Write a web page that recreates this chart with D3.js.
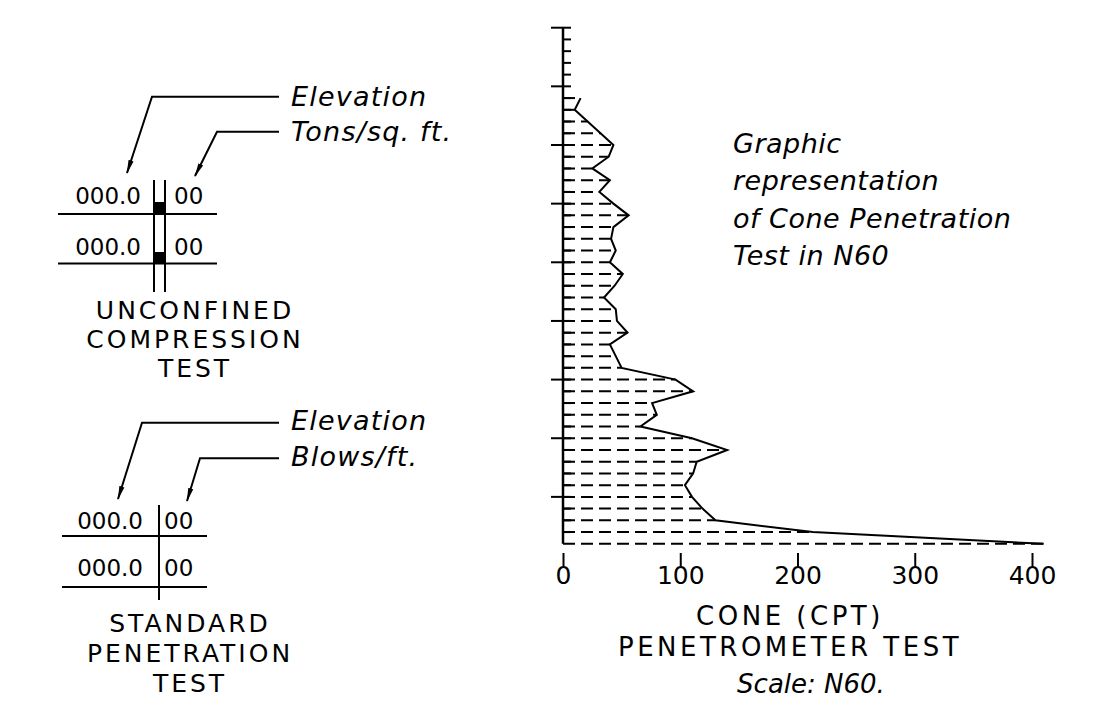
<!DOCTYPE html>
<html>
<head>
<meta charset="utf-8">
<script src="https://cdn.jsdelivr.net/npm/d3@7"></script>
<style>
  body { margin: 0; background: #fff; }
  svg { display: block; }
  text { font-family: "DejaVu Sans", sans-serif; fill: #000; }
  .it { font-style: italic; }
</style>
</head>
<body>
<svg id="chart" width="1107" height="719"></svg>
<script>
// depth rows (minor tick index from top of the axis) and N60 read at each row
const depthRows = d3.range(6, 45);
const cptN60 = [15, 10, 21, 32, 43, 39, 25, 40, 31, 43,
                56, 43, 41, 45, 40, 51, 44, 35, 45, 46,
                55, 40, 45, 50, 96, 111, 76, 80, 66, 110,
                140, 114, 111, 104, 110, 119, 130, 213, 410];
const xTickValues = [0, 100, 200, 300, 400];
const depthTicks = d3.range(0, 44);

const noteLines = ["Graphic", "representation", "of Cone Penetration", "Test in N60"];
const axisTitle = ["CONE (CPT)", "PENETROMETER TEST"];
const scaleNote = "Scale: N60.";
const uctTitle = ["UNCONFINED", "COMPRESSION", "TEST"];
const sptTitle = ["STANDARD", "PENETRATION", "TEST"];
const uctLabels = ["Elevation", "Tons/sq. ft."];
const sptLabels = ["Elevation", "Blows/ft."];
const sampleElev = ["000.0", "000.0"];
const sampleValue = ["00", "00"];

const svg = d3.select("#chart");

// arrowhead for leader lines
svg.append("defs").append("marker")
    .attr("id", "arrow")
    .attr("viewBox", "0 -4 14 8")
    .attr("refX", 13).attr("refY", 0)
    .attr("markerWidth", 14).attr("markerHeight", 8)
    .attr("markerUnits", "userSpaceOnUse")
    .attr("orient", "auto")
    .append("path")
    .attr("d", "M0,-2.6L14,0L0,2.6Z")
    .attr("fill", "#000");

// ---------- CPT profile ----------
const x = d3.scaleLinear().domain([0, 400]).range([563, 1032]);
const y = d3.scaleLinear().domain([0, 44]).range([27.7, 543.8]);

const rows = depthRows.map((r, i) => ({ row: r, v: cptN60[i] }));
const plot = svg.append("g");

plot.selectAll(".dash")
    .data(rows)
    .enter()
    .append("line")
    .attr("x1", x(0))
    .attr("x2", d => x(d.v))
    .attr("y1", d => y(d.row))
    .attr("y2", d => y(d.row))
    .attr("stroke", "#000")
    .attr("stroke-width", 2)
    .attr("stroke-dasharray", "12,6");

// depth ticks: long ones every 5 rows
plot.selectAll(".tick")
    .data(depthTicks)
    .enter()
    .append("line")
    .attr("x1", d => d % 5 === 0 ? x(0) - 12 : x(0))
    .attr("x2", x(0) + 8)
    .attr("y1", d => y(d))
    .attr("y2", d => y(d))
    .attr("stroke", "#000")
    .attr("stroke-width", 2);

plot.append("line")
    .attr("x1", x(0)).attr("x2", x(0))
    .attr("y1", y(0)).attr("y2", y(44))
    .attr("stroke", "#000")
    .attr("stroke-width", 2.5);

plot.append("path")
    .datum(rows)
    .attr("fill", "none")
    .attr("stroke", "#000")
    .attr("stroke-width", 2)
    .attr("stroke-linejoin", "miter")
    .attr("d", d3.line().x(d => x(d.v)).y(d => y(d.row)));

// bottom scale
const xAxis = svg.append("g")
    .attr("transform", "translate(0,553)")
    .call(d3.axisBottom(x).tickValues(xTickValues).tickSizeInner(13).tickSizeOuter(0).tickPadding(0));
xAxis.select(".domain").remove();
xAxis.selectAll("line").attr("stroke", "#000").attr("stroke-width", 2);
xAxis.selectAll("text")
    .attr("font-family", "DejaVu Sans, sans-serif")
    .attr("font-size", 25)
    .attr("fill", "#000");

svg.selectAll(".note")
    .data(noteLines)
    .enter()
    .append("text")
    .attr("class", "it")
    .attr("x", 733)
    .attr("y", (d, i) => 153 + i * 37.3)
    .attr("font-size", 27)
    .attr("letter-spacing", 0.5)
    .text(d => d);

svg.selectAll(".atitle")
    .data(axisTitle)
    .enter()
    .append("text")
    .attr("x", 790)
    .attr("y", (d, i) => 625 + i * 31)
    .attr("text-anchor", "middle")
    .attr("font-size", 26)
    .attr("letter-spacing", 3.5)
    .text(d => d);

svg.append("text")
    .attr("class", "it")
    .attr("x", 811).attr("y", 693)
    .attr("text-anchor", "middle")
    .attr("font-size", 26)
    .text(scaleNote);

// ---------- legend blocks ----------
function leader(g, pts) {
    g.append("path")
        .attr("d", d3.line()(pts))
        .attr("fill", "none")
        .attr("stroke", "#000")
        .attr("stroke-width", 2)
        .attr("marker-end", "url(#arrow)");
}

function labelPair(g, labels, y0, gap) {
    g.selectAll(".lab")
        .data(labels)
        .enter()
        .append("text")
        .attr("class", "it")
        .attr("x", 291)
        .attr("y", (d, i) => y0 + i * gap)
        .attr("font-size", 27)
        .attr("letter-spacing", 1.2)
        .text(d => d);
}

function title(g, lines, cx, y0, gap) {
    g.selectAll(".ttl")
        .data(lines)
        .enter()
        .append("text")
        .attr("x", cx)
        .attr("y", (d, i) => y0 + i * gap)
        .attr("text-anchor", "middle")
        .attr("font-size", 25)
        .attr("letter-spacing", 3)
        .text(d => d);
}

// unconfined compression
const uct = svg.append("g");
labelPair(uct, uctLabels, 106, 35);
leader(uct, [[279, 96.7], [152, 96.7], [127, 173]]);
leader(uct, [[279, 131.7], [217, 131.7], [195, 176]]);
uct.selectAll(".elev")
    .data(sampleElev)
    .enter()
    .append("text")
    .attr("x", 141).attr("y", (d, i) => 204 + i * 51)
    .attr("text-anchor", "end")
    .attr("font-size", 23)
    .text(d => d);
uct.selectAll(".val")
    .data(sampleValue)
    .enter()
    .append("text")
    .attr("x", 174).attr("y", (d, i) => 204 + i * 51)
    .attr("font-size", 23)
    .text(d => d);
[214, 263.5].forEach(ly => uct.append("line")
    .attr("x1", 58).attr("x2", 217).attr("y1", ly).attr("y2", ly)
    .attr("stroke", "#000").attr("stroke-width", 2));
[154, 165].forEach(lx => uct.append("line")
    .attr("x1", lx).attr("x2", lx).attr("y1", 180).attr("y2", 292)
    .attr("stroke", "#000").attr("stroke-width", 2));
[[202, 214], [252, 263.5]].forEach(([a, b]) => uct.append("rect")
    .attr("x", 154).attr("y", a).attr("width", 11).attr("height", b - a)
    .attr("fill", "#000"));
title(uct, uctTitle, 195, 319, 29);

// standard penetration
const spt = svg.append("g");
labelPair(spt, sptLabels, 430, 36);
leader(spt, [[279, 422.7], [142, 422.7], [118, 499]]);
leader(spt, [[279, 458.3], [200, 458.3], [187, 501]]);
spt.selectAll(".elev")
    .data(sampleElev)
    .enter()
    .append("text")
    .attr("x", 143).attr("y", (d, i) => 529 + i * 47)
    .attr("text-anchor", "end")
    .attr("font-size", 23)
    .text(d => d);
spt.selectAll(".val")
    .data(sampleValue)
    .enter()
    .append("text")
    .attr("x", 164).attr("y", (d, i) => 529 + i * 47)
    .attr("font-size", 23)
    .text(d => d);
[536, 587].forEach(ly => spt.append("line")
    .attr("x1", 62).attr("x2", 207).attr("y1", ly).attr("y2", ly)
    .attr("stroke", "#000").attr("stroke-width", 2));
spt.append("line")
    .attr("x1", 159).attr("x2", 159).attr("y1", 505).attr("y2", 600)
    .attr("stroke", "#000").attr("stroke-width", 2);
title(spt, sptTitle, 190, 632, 30);
</script>
</body>
</html>
